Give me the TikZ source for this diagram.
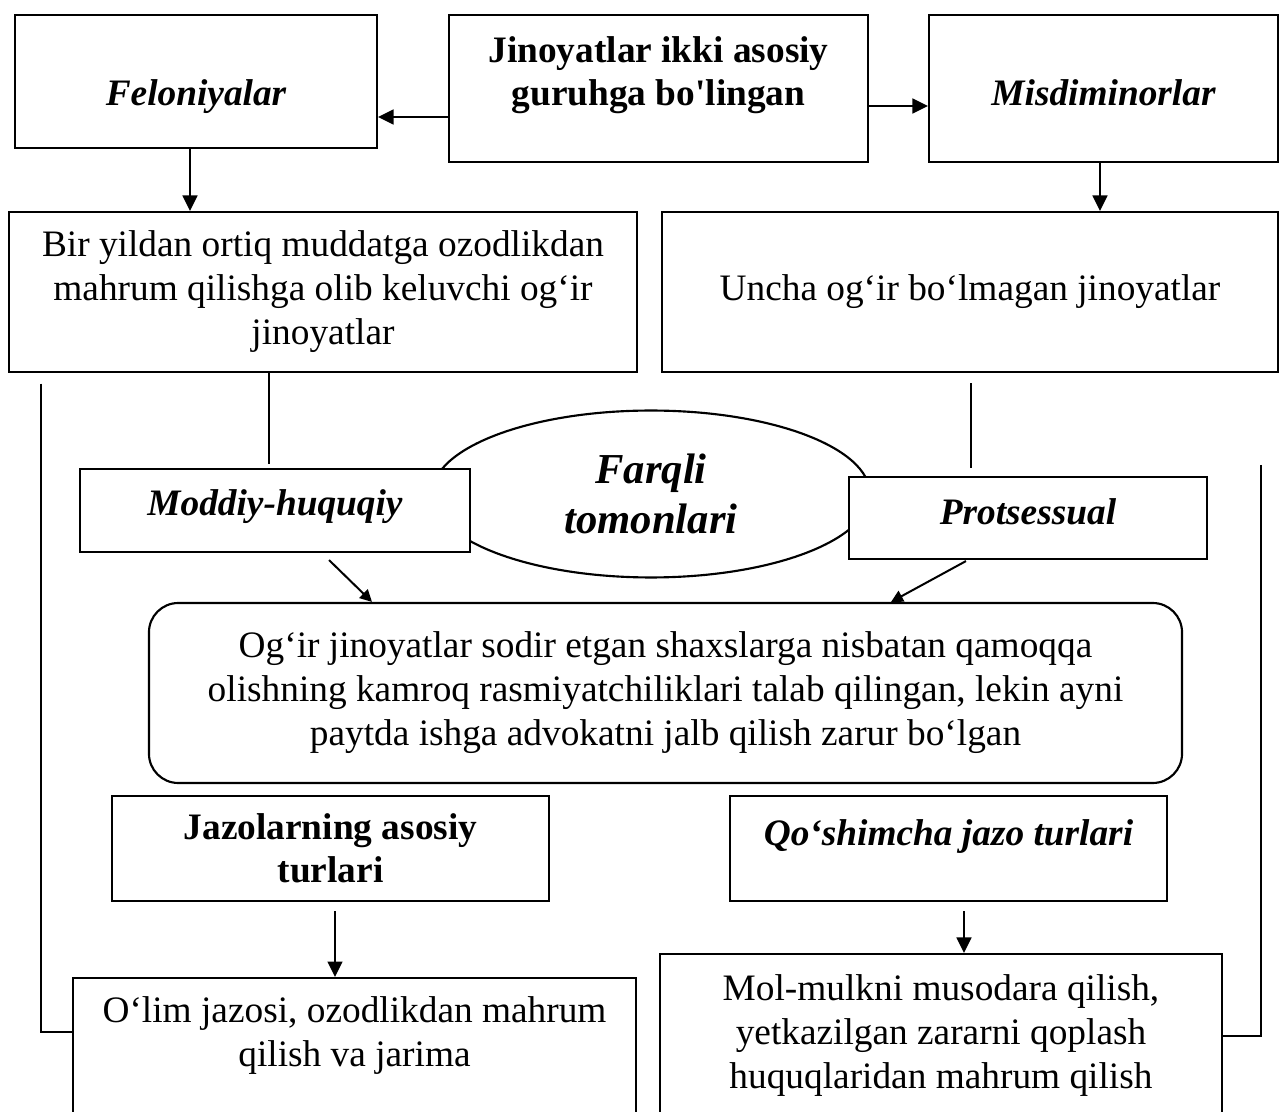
\documentclass[tikz,border=0pt]{standalone}
\usepackage{fontspec}
\setmainfont{Liberation Serif}
\usetikzlibrary{arrows.meta,positioning,shapes.geometric}

\begin{document}
\begin{tikzpicture}[
    x=0.375pt, y=-0.375pt,
    box/.style={rectangle, draw, line width=0.8pt, align=center, inner sep=0pt,
                fill=white, font=\fontsize{14}{16.5}\selectfont},
    title/.style={box, font=\fontsize{14}{16}\selectfont\bfseries},
    group/.style={box, font=\fontsize{14}{16}\selectfont\bfseries\itshape},
    rbox/.style={box, rounded corners=11pt},
    oval/.style={ellipse, draw, line width=0.8pt, inner sep=0pt, align=center,
                 font=\fontsize{16}{18.75}\selectfont\bfseries\itshape},
    arrow/.style={-{Triangle[length=5.8pt,width=5.6pt]}, line width=0.75pt},
    slant/.style={-{Triangle[length=4.5pt,width=4.5pt]}, line width=0.75pt},
    link/.style={line width=0.5pt},
    side/.style={line width=0.6pt}
]
\useasboundingbox (0,0) rectangle (1280,1112);
\clip (0,0) rectangle (1280,1112);

% Row 1: two groups
\node[group, minimum width=135.75pt, minimum height=49.9pt,
      text height=17.8pt, text depth=0pt] (fel) at (196,81.5) {Feloniyalar};
\node[title, minimum width=157.1pt, minimum height=55.1pt,
      text depth=13pt] (root) at (658.5,88.5) {Jinoyatlar ikki asosiy\\guruhga bo\textquotesingle lingan};
\node[group, minimum width=130.9pt, minimum height=55.1pt,
      text height=12.6pt, text depth=0pt] (mis) at (1103.5,88.5) {Misdiminorlar};

% Row 2: definitions
\node[box, minimum width=235.5pt, minimum height=60pt] (bir) at (323,292)
      {Bir yildan ortiq muddatga ozodlikdan\\mahrum qilishga olib keluvchi og‘ir\\jinoyatlar};
\node[box, minimum width=231pt, minimum height=60pt] (uncha) at (970,292)
      {Uncha og‘ir bo‘lmagan jinoyatlar};

% Row 3: differences
\node[oval, minimum width=164.25pt, minimum height=62.6pt] (farq) at (651,494) {Farqli\\tomonlari};
\node[group, minimum width=146.25pt, minimum height=31.1pt,
      text height=8pt, text depth=4.4pt] (mod) at (275,510.5) {Moddiy-huquqiy};
\node[group, minimum width=134.25pt, minimum height=30.75pt,
      text height=8.5pt, text depth=3.8pt] (pro) at (1028,518) {Protsessual};

% Row 4: procedure
\node[rbox, minimum width=387.4pt, minimum height=67.5pt] (ogir) at (665.5,693)
      {Og‘ir jinoyatlar sodir etgan shaxslarga nisbatan qamoqqa\\olishning kamroq rasmiyatchiliklari talab qilingan, lekin ayni\\paytda ishga advokatni jalb qilish zarur bo‘lgan};

% Row 5: punishments
\node[title, minimum width=163.9pt, minimum height=39.4pt] (jaz) at (330.5,848.5) {Jazolarning asosiy\\turlari};
\node[group, minimum width=163.9pt, minimum height=39.4pt,
      text height=8pt, text depth=10.4pt] (qos) at (948.5,848.5) {Qo‘shimcha jazo turlari};

% Row 6: kinds
\node[box, minimum width=211.1pt, minimum height=55.1pt,
      text depth=15pt] (olim) at (354.5,1051.5) {O‘lim jazosi, ozodlikdan mahrum\\qilish va jarima};
\node[box, minimum width=210.75pt, minimum height=61.5pt] (mol) at (941,1036)
      {Mol-mulkni musodara qilish,\\yetkazilgan zararni qoplash\\huquqlaridan mahrum qilish};

% Arrows
\draw[arrow] (root.west |- 0,117) -- (fel.east |- 0,117);
\draw[arrow] (root.east |- 0,106) -- (mis.west |- 0,106);
\draw[arrow] (fel.south -| 190,0) -- (bir.north -| 190,0);
\draw[arrow] (mis.south -| 1100,0) -- (uncha.north -| 1100,0);
\draw[slant] ([shift={(54,7)}]mod.south) -- ([shift={(-293.5,0)}]ogir.north);
\draw[slant] ([shift={(-62,1)}]pro.south) -- ([shift={(225.5,0)}]ogir.north);
\draw[arrow, shorten <=3.4pt] (jaz.south -| 335,0) -- (olim.north -| 335,0);
\draw[arrow, shorten <=3.4pt] (qos.south -| 964,0) -- (mol.north -| 964,0);

% Links
\draw[link, shorten >=1.5pt] (bir.south -| 269,0) -- (mod.north -| 269,0);
\draw[link, shorten <=3.75pt, shorten >=3pt] (uncha.south -| 971,0) -- (pro.north -| 971,0);
\draw[side, shorten <=4pt] (bir.south -| 41,0) |- ([yshift=7.3pt]olim.west);
\draw[side, shorten <=-4.1pt] (pro.north -| 1261,0) |- (mol.east);

\end{tikzpicture}
\end{document}
